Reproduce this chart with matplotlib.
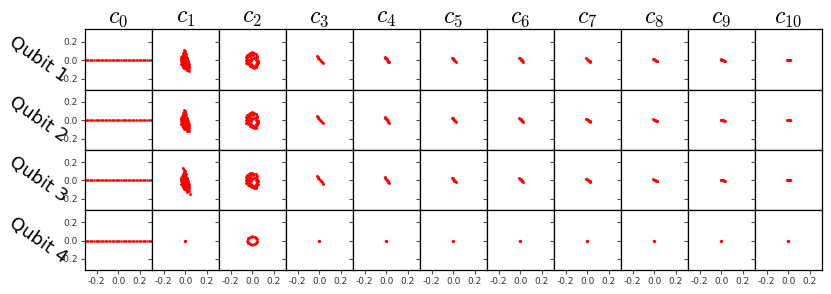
import matplotlib
matplotlib.use("Agg")
import matplotlib.pyplot as plt

plt.rcParams['mathtext.fontset'] = 'cm'

col_titles = [r'$c_{%d}$' % i for i in range(11)]
row_labels = ['Qubit 1', 'Qubit 2', 'Qubit 3', 'Qubit 4']
tick_vals = [-0.2, 0.0, 0.2]
tick_text = ['-0.2', '0.0', '0.2']

# c0: points spread on the real axis
c0_x = [-0.30, -0.29, -0.28, -0.265, -0.25, -0.24, -0.225, -0.21, -0.2, -0.19,
        -0.175, -0.16, -0.15, -0.14, -0.125, -0.11, -0.1, -0.09, -0.075, -0.06,
        -0.05, -0.04, -0.025, -0.01, 0.0, 0.01, 0.025, 0.04, 0.05, 0.06, 0.075,
        0.09, 0.1, 0.11, 0.125, 0.14, 0.15, 0.16, 0.175, 0.19, 0.2, 0.21, 0.225,
        0.24, 0.25, 0.265, 0.28, 0.29, 0.3]
c0_y = [0.0] * len(c0_x)

# c1 cloud (qubits 1-3)
c1_x = [-0.010, -0.005, -0.015, 0.0, -0.02, -0.008, 0.005, -0.025, -0.012, 0.002,
        -0.03, -0.018, 0.008, -0.005, -0.035, -0.022, 0.012, 0.0, -0.038, -0.012,
        0.018, -0.028, 0.005, -0.04, -0.018, 0.022, 0.01, -0.032, -0.005, 0.028,
        -0.022, 0.015, -0.038, 0.0, 0.032, -0.015, 0.02, -0.03, 0.005, 0.035,
        -0.01, 0.025, -0.022, 0.012, 0.0, 0.03, -0.012, 0.018, 0.005, 0.025,
        0.012, 0.035]
c1_y = [0.115, 0.10, 0.09, 0.085, 0.075, 0.07, 0.065, 0.06, 0.055, 0.05,
        0.045, 0.04, 0.04, 0.035, 0.03, 0.025, 0.025, 0.02, 0.015, 0.012,
        0.01, 0.005, 0.0, -0.005, -0.008, -0.008, -0.015, -0.02, -0.022, -0.025,
        -0.03, -0.035, -0.038, -0.04, -0.042, -0.048, -0.052, -0.055, -0.058, -0.06,
        -0.065, -0.07, -0.072, -0.078, -0.085, -0.088, -0.09, -0.095, -0.1, -0.108,
        -0.112, -0.118]
# extra scattered points seen for qubit 3
c1_q3_extra_x = [-0.02, 0.015, 0.04]
c1_q3_extra_y = [0.13, -0.125, -0.15]

# c2 ring-shaped cloud (qubits 1-3)
c2_x = [-0.02, 0.0, 0.015, -0.035, 0.03, -0.05, -0.01, 0.01, 0.045, -0.055,
        -0.03, 0.03, -0.045, -0.015, 0.045, -0.06, 0.0, 0.035, -0.035, 0.05,
        -0.05, -0.015, 0.045, -0.055, -0.03, 0.055, -0.04, 0.035, -0.015, 0.045,
        -0.025, 0.0, 0.02, 0.038, -0.005, 0.015, 0.03, -0.045, 0.02, -0.04, 0.05]
c2_y = [0.08, 0.085, 0.075, 0.07, 0.065, 0.055, 0.06, 0.055, 0.045, 0.035,
        0.04, 0.035, 0.02, 0.025, 0.02, 0.005, 0.01, 0.005, 0.0, -0.005,
        -0.015, -0.005, -0.02, -0.03, -0.03, -0.035, -0.045, -0.04, -0.04, -0.055,
        -0.06, -0.055, -0.065, -0.07, -0.075, -0.085, -0.08, 0.0, 0.025, 0.05, -0.01]

# c2 for qubit 4: thin ring
c2_q4_x = [0.045, 0.043, 0.039, 0.032, 0.022, 0.012, 0.0, -0.012, -0.022, -0.032,
           -0.039, -0.043, -0.045, -0.043, -0.039, -0.032, -0.022, -0.012, 0.0,
           0.012, 0.022, 0.032, 0.039, 0.043]
c2_q4_y = [0.0, 0.012, 0.022, 0.032, 0.039, 0.043, 0.045, 0.043, 0.039, 0.032,
           0.022, 0.012, 0.0, -0.012, -0.022, -0.032, -0.039, -0.043, -0.045,
           -0.043, -0.039, -0.032, -0.022, -0.012]

# c3..c10: short streaks
streak_x = {
    3: [-0.022, -0.015, -0.008, 0.0, 0.008, 0.015, 0.022, 0.03],
    4: [-0.015, -0.01, -0.004, 0.002, 0.008, 0.014, 0.02, 0.025],
    5: [-0.012, -0.007, -0.002, 0.004, 0.01, 0.016, 0.022],
    6: [-0.01, -0.004, 0.002, 0.008, 0.014, 0.02, 0.025],
    7: [-0.008, -0.002, 0.004, 0.01, 0.016, 0.021, 0.025],
    8: [-0.008, -0.002, 0.004, 0.01, 0.016, 0.021, 0.025],
    9: [-0.005, 0.001, 0.007, 0.013, 0.019, 0.025, 0.03],
    10: [-0.012, -0.007, -0.002, 0.003, 0.008, 0.013, 0.018],
}
streak_y = {
    3: [0.05, 0.038, 0.026, 0.014, 0.002, -0.01, -0.022, -0.035],
    4: [0.035, 0.027, 0.018, 0.009, 0.0, -0.009, -0.018, -0.025],
    5: [0.028, 0.021, 0.014, 0.006, -0.002, -0.01, -0.018],
    6: [0.025, 0.018, 0.011, 0.004, -0.003, -0.01, -0.015],
    7: [0.018, 0.012, 0.006, 0.0, -0.006, -0.011, -0.015],
    8: [0.012, 0.008, 0.004, 0.0, -0.004, -0.007, -0.01],
    9: [0.008, 0.006, 0.003, 0.001, -0.001, -0.004, -0.006],
    10: [0.001, 0.001, 0.0, 0.0, 0.0, -0.001, -0.001],
}

origin_x = [0.0]
origin_y = [0.0]

fig, axs = plt.subplots(4, 11, figsize=(8.31, 2.94), dpi=100,
                        sharex=True, sharey=True)
fig.subplots_adjust(left=0.102, right=0.989, top=0.900, bottom=0.082,
                    wspace=0, hspace=0)


def points_for(row, col):
    if col == 0:
        return c0_x, c0_y
    if row == 3:
        if col == 2:
            return c2_q4_x, c2_q4_y
        return origin_x, origin_y
    if col == 1:
        if row == 2:
            return c1_x + c1_q3_extra_x, c1_y + c1_q3_extra_y
        return c1_x, c1_y
    if col == 2:
        return c2_x, c2_y
    return streak_x[col], streak_y[col]


for r in range(4):
    for c in range(11):
        ax = axs[r, c]
        xs, ys = points_for(r, c)
        if c == 0:
            size = 3
        elif r == 3 and c == 2:
            size = 4
        elif r == 3:
            size = 6
        else:
            size = 4.5
        ax.scatter(xs, ys, s=size, color='red', linewidths=0)
        ax.set_xlim(-0.31, 0.31)
        ax.set_ylim(-0.32, 0.335)
        ax.set_xticks(tick_vals)
        ax.set_yticks(tick_vals)
        ax.set_xticklabels(tick_text)
        ax.set_yticklabels(tick_text)
        ax.tick_params(labelsize=6.5, length=3, width=0.8, color='0.3',
                       labelcolor='0.2', pad=2)
        for sp in ax.spines.values():
            sp.set_linewidth(0.9)
        if r == 0:
            ax.set_title(col_titles[c], fontsize=17, pad=3)
    axs[r, 0].text(-0.70, 0.5, row_labels[r], rotation=-35,
                   transform=axs[r, 0].transAxes, ha='center', va='center',
                   fontsize=13)

fig.savefig('out.png', dpi=100)
